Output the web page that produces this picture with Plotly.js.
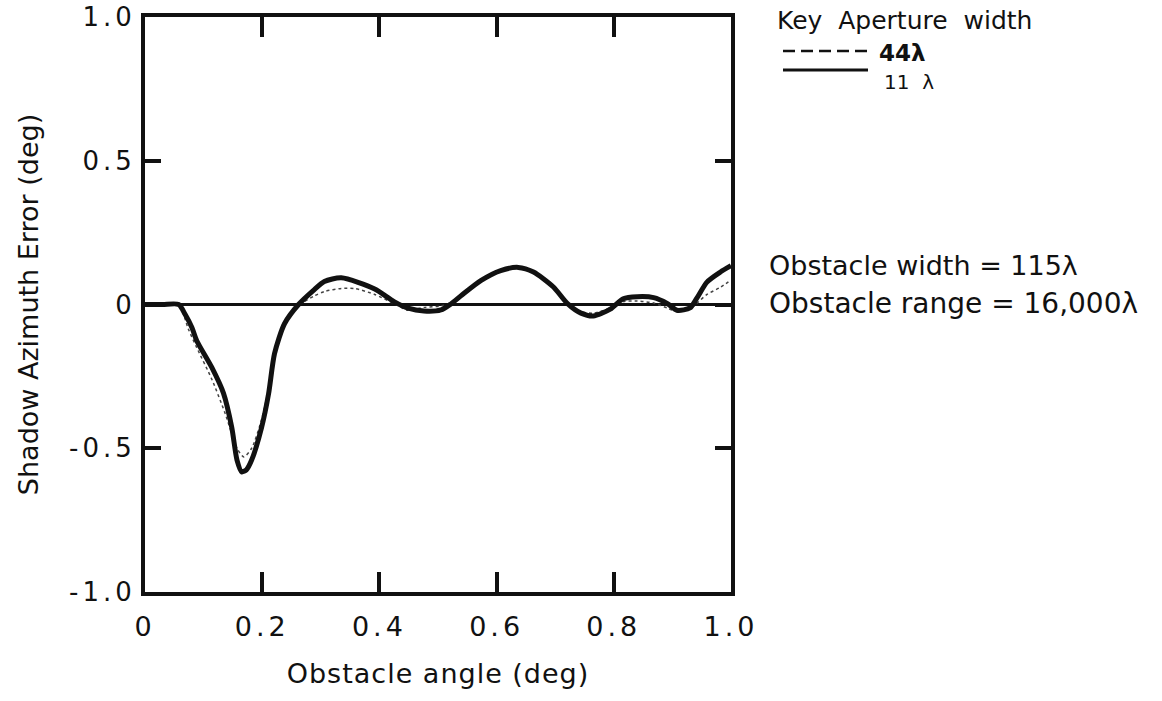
<!DOCTYPE html>
<html>
<head>
<meta charset="utf-8">
<script src="https://cdn.plot.ly/plotly-3.0.1.min.js"></script>
<style>
html,body{margin:0;padding:0;background:#fff;}
#chart{width:1162px;height:701px;}
#chart g.xtick text, #chart g.ytick text{letter-spacing:4px;}
#chart text.xtitle{letter-spacing:1px;}
</style>
</head>
<body>
<div id="chart"></div>
<script>
// Obstacle angle (deg)
const xSolid = [0, 0.03, 0.0575, 0.0684, 0.080, 0.0883, 0.114, 0.134, 0.148, 0.157, 0.165, 0.173, 0.182, 0.199, 0.211, 0.221, 0.238, 0.262, 0.289, 0.306, 0.335, 0.392, 0.425, 0.449, 0.476, 0.505, 0.522, 0.539, 0.573, 0.607, 0.637, 0.663, 0.697, 0.721, 0.744, 0.765, 0.794, 0.816, 0.840, 0.868, 0.891, 0.908, 0.930, 0.942, 0.959, 0.982, 1.0];
// Shadow azimuth error (deg), aperture width 11 lambda
const ySolid = [0, 0, 0, -0.034, -0.080, -0.126, -0.219, -0.309, -0.427, -0.541, -0.582, -0.575, -0.541, -0.427, -0.309, -0.171, -0.067, 0.0, 0.052, 0.080, 0.093, 0.054, 0.010, -0.013, -0.023, -0.019, 0.002, 0.030, 0.083, 0.118, 0.129, 0.113, 0.061, 0.003, -0.030, -0.040, -0.016, 0.020, 0.027, 0.024, 0.004, -0.020, -0.012, 0.023, 0.078, 0.113, 0.135];
// aperture width 44 lambda
const xDashed = [0, 0.03, 0.0575, 0.0743, 0.0883, 0.114, 0.137, 0.157, 0.1686, 0.182, 0.199, 0.211, 0.221, 0.238, 0.262, 0.289, 0.306, 0.335, 0.359, 0.392, 0.425, 0.449, 0.476, 0.505, 0.522, 0.539, 0.573, 0.607, 0.637, 0.663, 0.697, 0.721, 0.744, 0.765, 0.794, 0.816, 0.840, 0.868, 0.891, 0.908, 0.930, 0.942, 0.959, 0.982, 1.0];
const yDashed = [0, 0, 0, -0.087, -0.15, -0.26, -0.38, -0.50, -0.53, -0.50, -0.40, -0.29, -0.17, -0.07, -0.005, 0.03, 0.045, 0.056, 0.055, 0.035, 0.003, -0.02, -0.01, -0.005, 0.005, 0.030, 0.083, 0.118, 0.129, 0.113, 0.061, 0.003, -0.025, -0.030, -0.012, 0.010, 0.012, 0.005, -0.012, -0.025, -0.015, 0.005, 0.035, 0.060, 0.085];

const xTicks = [0, 0.2, 0.4, 0.6, 0.8, 1.0];
const xTickText = ['0', '0.2', '0.4', '0.6', '0.8', '1.0'];
const yTicks = [-1.0, -0.5, 0, 0.5, 1.0];
const yTickText = ['-1.0', '-0.5', '0', '0.5', '1.0'];

const keyTitle = 'Key&nbsp; Aperture&nbsp; width';
const keyLabels = ['<b>44\u03bb</b>', '11&nbsp;&nbsp;\u03bb'];
const notes = ['Obstacle width = 115\u03bb', 'Obstacle range = 16,000\u03bb'];

// layout geometry (pixels)
const W = 1162, H = 701;
const L = 145, R = 731, T = 17, B = 592;
const px = x => (x - L) / (R - L);
const py = y => (B - y) / (B - T);

const FONT = 'DejaVu Sans';
const INK = '#111';

const traces = [
  {x: xDashed, y: yDashed, mode: 'lines', name: '44\u03bb',
   line: {color: '#444', width: 1.5, dash: 'dot', shape: 'spline', smoothing: 0.7}},
  {x: xSolid, y: ySolid, mode: 'lines', name: '11\u03bb',
   line: {color: INK, width: 5, shape: 'spline', smoothing: 0.7}}
];

const layout = {
  width: W, height: H,
  margin: {l: L, r: W - R, t: T, b: H - B},
  paper_bgcolor: '#fff', plot_bgcolor: '#fff',
  showlegend: false,
  font: {family: FONT, color: INK, size: 27},
  xaxis: {
    range: [0, 1], tickvals: xTicks, ticktext: xTickText,
    ticks: 'inside', ticklen: 20, tickwidth: 4, tickcolor: INK,
    showline: true, linewidth: 4, linecolor: INK, mirror: 'ticks',
    showgrid: false, zeroline: false, ticklabelstandoff: 8,
    tickfont: {family: FONT, size: 27, color: INK},
    title: {text: 'Obstacle angle (deg)', font: {family: FONT, size: 27, color: INK}, standoff: 24}
  },
  yaxis: {
    range: [-1, 1], tickvals: yTicks, ticktext: yTickText,
    ticks: 'inside', ticklen: 16, tickwidth: 4, tickcolor: INK,
    showline: true, linewidth: 4, linecolor: INK, mirror: 'ticks',
    showgrid: false, zeroline: true, zerolinewidth: 3, zerolinecolor: INK,
    ticklabeloverflow: 'allow',
    tickfont: {family: FONT, size: 26, color: INK},
    title: {text: 'Shadow Azimuth Error (deg)', font: {family: FONT, size: 27, color: INK}, standoff: 40}
  },
  shapes: [
    {type: 'line', xref: 'paper', yref: 'paper', x0: px(783), x1: px(868), y0: py(51), y1: py(51),
     line: {color: INK, width: 2.5, dash: '12px,6px'}},
    {type: 'line', xref: 'paper', yref: 'paper', x0: px(783), x1: px(868), y0: py(70), y1: py(70),
     line: {color: INK, width: 3}}
  ],
  annotations: [
    {xref: 'paper', yref: 'paper', x: px(775), y: py(20), text: keyTitle, showarrow: false,
     xanchor: 'left', yanchor: 'middle', font: {family: FONT, size: 25, color: INK}},
    {xref: 'paper', yref: 'paper', x: px(877), y: py(53), text: keyLabels[0], showarrow: false,
     xanchor: 'left', yanchor: 'middle', font: {family: FONT, size: 23, color: INK}},
    {xref: 'paper', yref: 'paper', x: px(882), y: py(82), text: keyLabels[1], showarrow: false,
     xanchor: 'left', yanchor: 'middle', font: {family: FONT, size: 20, color: INK}},
    {xref: 'paper', yref: 'paper', x: px(767), y: py(265), text: notes[0], showarrow: false,
     xanchor: 'left', yanchor: 'middle', font: {family: FONT, size: 27, color: INK}},
    {xref: 'paper', yref: 'paper', x: px(767), y: py(303), text: notes[1], showarrow: false,
     xanchor: 'left', yanchor: 'middle', font: {family: FONT, size: 28, color: INK}}
  ]
};

Plotly.newPlot('chart', traces, layout, {staticPlot: true, displayModeBar: false});
</script>
</body>
</html>
